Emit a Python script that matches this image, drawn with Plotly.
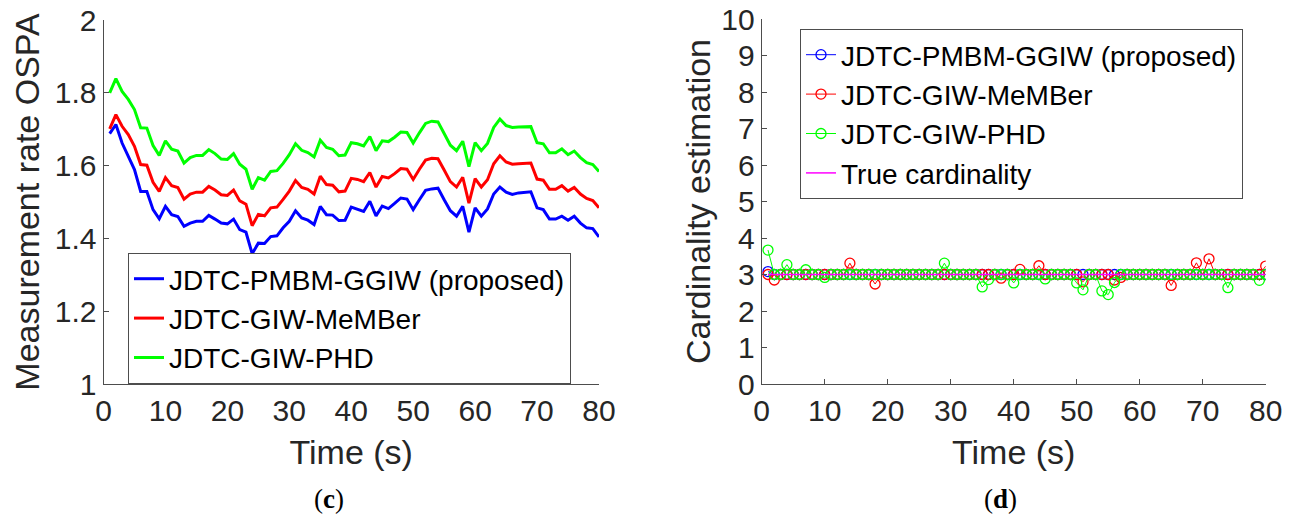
import plotly.graph_objects as go

# ---------------- data ----------------
time_s = list(range(1, 81))

ospa_pmbm = [1.688, 1.713, 1.662, 1.626, 1.589, 1.529, 1.529, 1.479, 1.454, 1.488,
             1.465, 1.460, 1.433, 1.442, 1.447, 1.447, 1.463, 1.453, 1.442, 1.440,
             1.453, 1.424, 1.417, 1.358, 1.387, 1.386, 1.405, 1.407, 1.429, 1.447,
             1.476, 1.456, 1.450, 1.438, 1.488, 1.465, 1.464, 1.449, 1.450, 1.486,
             1.481, 1.474, 1.502, 1.462, 1.489, 1.482, 1.496, 1.511, 1.508, 1.479,
             1.506, 1.532, 1.536, 1.538, 1.506, 1.476, 1.461, 1.488, 1.417, 1.484,
             1.461, 1.481, 1.522, 1.541, 1.527, 1.521, 1.525, 1.527, 1.528, 1.484,
             1.479, 1.453, 1.453, 1.461, 1.450, 1.461, 1.442, 1.429, 1.427, 1.404]

ospa_member = [1.701, 1.740, 1.708, 1.685, 1.653, 1.603, 1.601, 1.554, 1.529, 1.567,
               1.545, 1.540, 1.508, 1.522, 1.527, 1.527, 1.543, 1.533, 1.520, 1.518,
               1.533, 1.503, 1.494, 1.435, 1.466, 1.462, 1.484, 1.486, 1.507, 1.530,
               1.559, 1.540, 1.535, 1.522, 1.571, 1.548, 1.546, 1.528, 1.530, 1.565,
               1.562, 1.556, 1.581, 1.541, 1.570, 1.566, 1.578, 1.592, 1.590, 1.562,
               1.590, 1.615, 1.620, 1.619, 1.588, 1.556, 1.541, 1.568, 1.497, 1.564,
               1.541, 1.561, 1.605, 1.627, 1.610, 1.604, 1.605, 1.606, 1.607, 1.563,
               1.560, 1.535, 1.535, 1.545, 1.530, 1.540, 1.522, 1.510, 1.504, 1.484]

ospa_phd = [1.800, 1.839, 1.804, 1.782, 1.754, 1.704, 1.703, 1.655, 1.628, 1.668,
            1.645, 1.640, 1.607, 1.622, 1.628, 1.628, 1.644, 1.633, 1.618, 1.617,
            1.633, 1.604, 1.590, 1.535, 1.567, 1.560, 1.584, 1.586, 1.606, 1.630,
            1.660, 1.642, 1.636, 1.624, 1.670, 1.650, 1.645, 1.627, 1.629, 1.663,
            1.660, 1.654, 1.680, 1.641, 1.668, 1.666, 1.678, 1.692, 1.691, 1.662,
            1.690, 1.716, 1.722, 1.720, 1.688, 1.656, 1.641, 1.667, 1.597, 1.663,
            1.641, 1.661, 1.705, 1.728, 1.710, 1.705, 1.706, 1.706, 1.707, 1.663,
            1.660, 1.635, 1.635, 1.646, 1.630, 1.640, 1.622, 1.608, 1.603, 1.584]

card_pmbm = [3.08, 3, 3, 3, 3, 3, 3, 3, 3, 3,
             3, 3, 3, 3, 3, 3, 3, 3, 3, 3,
             3, 3, 3, 3, 3, 3, 3, 3, 3, 3,
             3, 3, 3, 3, 3, 3, 3, 3, 3, 3,
             3, 3, 3, 3, 3, 3, 3, 3, 3, 3,
             3, 3, 3, 3, 3, 3, 3, 3, 3, 3,
             3, 3, 3, 3, 3, 3, 3, 3, 3, 3,
             3, 3, 3, 3, 3, 3, 3, 3, 3, 3]

card_member = [3.0, 2.85, 3, 3, 3, 3, 3, 3, 3, 3,
               3, 3, 3, 3.31, 3, 3, 3, 2.74, 3, 3,
               3, 3, 3, 3, 3, 3, 3, 3, 3, 3,
               3, 3, 3, 3, 3, 3, 3, 2.90, 3, 3,
               3.14, 3, 3, 3.24, 3, 3, 3, 3, 3, 3,
               2.80, 3, 3, 3, 3, 2.85, 2.92, 3, 3, 3,
               3, 3, 3, 3, 2.70, 3, 3, 3, 3.32, 3,
               3.43, 3, 3, 3, 3, 3, 3, 3, 3, 3.23]

card_phd = [3.67, 3, 3, 3.27, 3, 3, 3.13, 3, 3, 2.92,
            3, 3, 3, 3, 3, 3, 3, 3, 3, 3,
            3, 3, 3, 3, 3, 3, 3, 3, 3.31, 3,
            3, 3, 3, 3, 2.66, 2.86, 3, 3, 3, 2.77,
            3, 3, 3, 3, 2.88, 3, 3, 3, 3, 2.77,
            2.58, 3, 3, 2.55, 2.45, 2.78, 3, 3, 3, 3,
            3, 3, 3, 3, 3, 3, 3, 3, 3, 3,
            3, 3, 3, 2.64, 3, 3, 3, 3, 2.84, 3.0]

card_true = [3] * 80

names = ["JDTC-PMBM-GGIW (proposed)", "JDTC-GIW-MeMBer", "JDTC-GIW-PHD"]
colors = ["#0000FF", "#FF0000", "#00FF00"]
x_ticks = [0, 10, 20, 30, 40, 50, 60, 70, 80]
y_ticks_left = [1, 1.2, 1.4, 1.6, 1.8, 2]
y_tick_text_left = ["1", "1.2", "1.4", "1.6", "1.8", "2"]
y_ticks_right = list(range(0, 11))

# ---------------- figure ----------------
W, H = 1292, 522
FONT = "Liberation Sans, Arial, sans-serif"
SERIF = "Liberation Serif, DejaVu Serif, serif"
TXT = "#262626"
AX = "#4d4d4d"

fig = go.Figure()

for name, col, ys in zip(names, colors, [ospa_pmbm, ospa_member, ospa_phd]):
    fig.add_trace(go.Scatter(x=time_s, y=ys, mode="lines", name=name,
                             line=dict(color=col, width=3),
                             xaxis="x", yaxis="y", legend="legend"))

for name, col, ys in zip(names, colors, [card_pmbm, card_member, card_phd]):
    fig.add_trace(go.Scatter(x=time_s, y=ys, mode="lines+markers", name=name,
                             line=dict(color=col, width=1),
                             marker=dict(symbol="circle-open", size=10,
                                         color=col, line=dict(color=col, width=1.3)),
                             xaxis="x2", yaxis="y2", legend="legend2"))

fig.add_trace(go.Scatter(x=time_s, y=card_true, mode="lines", name="True cardinality",
                         line=dict(color="#FF00FF", width=1.5),
                         xaxis="x2", yaxis="y2", legend="legend2"))


def px_x(v):
    return v / W


def px_y(v):
    return 1 - v / H


axis_common = dict(showline=True, linecolor=AX, linewidth=1, ticks="inside",
                   ticklen=5, tickcolor=AX, showgrid=False, zeroline=False,
                   tickfont=dict(family=FONT, size=30, color=TXT),
                   title_font=dict(family=FONT, size=34, color=TXT),
                   mirror=False, automargin=False)

fig.update_layout(
    template="none",
    width=W, height=H,
    margin=dict(l=0, r=0, t=0, b=0, autoexpand=False),
    paper_bgcolor="white", plot_bgcolor="white",
    showlegend=True,
    xaxis=dict(domain=[px_x(103.5), px_x(599)], range=[0, 80], tickvals=x_ticks,
               anchor="y", title=dict(text="Time (s)", standoff=14), **axis_common),
    yaxis=dict(domain=[px_y(384), px_y(20)], range=[1, 2], tickvals=y_ticks_left,
               ticktext=y_tick_text_left, anchor="x",
               title=dict(text="Measurement rate OSPA", standoff=4), **axis_common),
    xaxis2=dict(domain=[px_x(761.7), px_x(1265.7)], range=[0, 80], tickvals=x_ticks,
                anchor="y2", title=dict(text="Time (s)", standoff=14), **axis_common),
    yaxis2=dict(domain=[px_y(384), px_y(19)], range=[0, 10], tickvals=y_ticks_right,
                anchor="x2", title=dict(text="Cardinality estimation", standoff=0),
                **axis_common),
    legend=dict(x=px_x(128), y=px_y(253), xanchor="left", yanchor="top",
                bgcolor="white", bordercolor=AX, borderwidth=1,
                font=dict(family=FONT, size=28, color="black"),
                tracegroupgap=0, itemwidth=30),
    legend2=dict(x=px_x(800), y=px_y(29), xanchor="left", yanchor="top",
                 bgcolor="white", bordercolor=AX, borderwidth=1,
                 font=dict(family=FONT, size=28, color="black"),
                 tracegroupgap=0, itemwidth=30),
    annotations=[
        dict(text="(<b>c</b>)", x=px_x(329), y=px_y(499), xref="paper", yref="paper",
             xanchor="center", yanchor="middle",
             showarrow=False, font=dict(family=SERIF, size=27, color="black")),
        dict(text="(<b>d</b>)", x=px_x(1000), y=px_y(499), xref="paper", yref="paper",
             xanchor="center", yanchor="middle",
             showarrow=False, font=dict(family=SERIF, size=27, color="black")),
    ],
)

fig.write_html("out.html")
